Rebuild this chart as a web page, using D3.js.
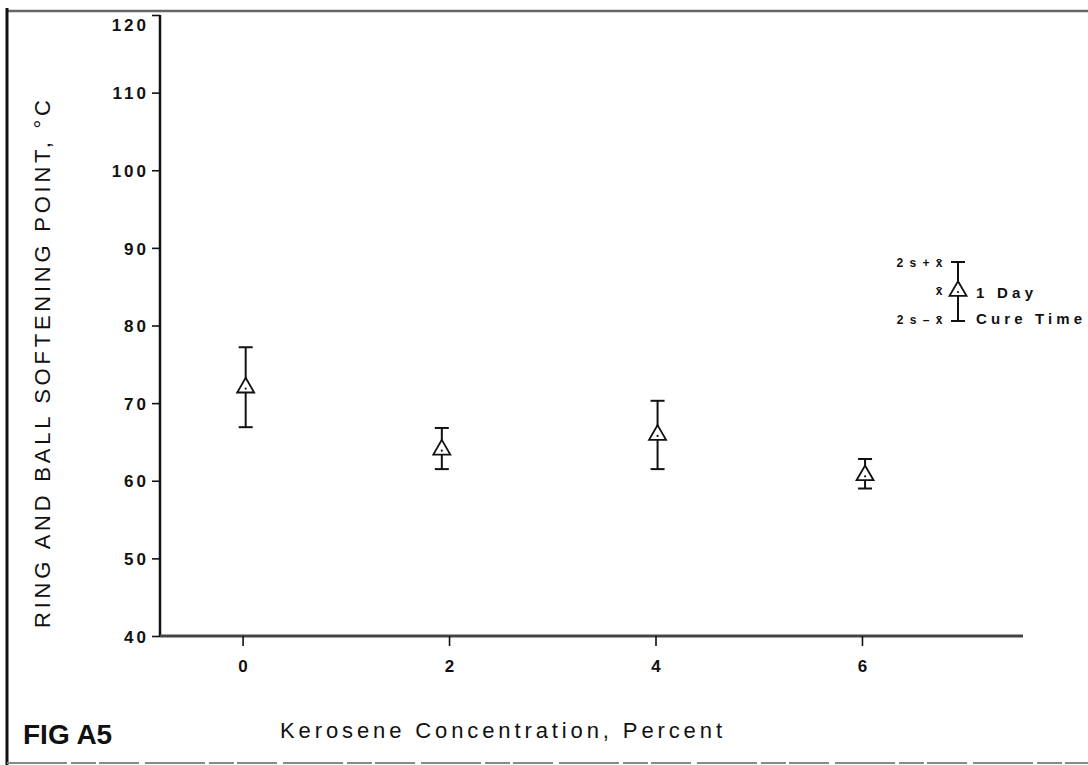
<!DOCTYPE html>
<html>
<head>
<meta charset="utf-8">
<script src="https://cdn.jsdelivr.net/npm/d3@7/dist/d3.min.js"></script>
<style>
  html, body { margin: 0; padding: 0; background: #fff; }
  svg { display: block; }
  text { font-family: "Liberation Sans", Arial, Helvetica, sans-serif; fill: #111; }
</style>
</head>
<body>
<svg id="chart" width="1088" height="765"></svg>
<script>
// ---- data ----
const kerosene = [0.03, 1.93, 4.02, 6.03];          // percent (plotted position)
const meanSP   = [72.0, 64.0, 65.9, 60.7];          // x-bar, deg C
const upperSP  = [77.2, 66.8, 70.3, 62.8];          // 2s + x-bar
const lowerSP  = [66.9, 61.5, 61.5, 59.0];          // 2s - x-bar
const xTicks   = [0, 2, 4, 6];
const yTicks   = [40, 50, 60, 70, 80, 90, 100, 110, 120];

const svg = d3.select("#chart");

const x = d3.scaleLinear().domain([-0.8, 7.56]).range([160, 1023]);
const y = d3.scaleLinear().domain([40, 120]).range([636, 15]);

// ---- page frame ----
svg.append("line").attr("x1", 7).attr("x2", 1088).attr("y1", 11).attr("y2", 11)
  .attr("stroke", "#666").attr("stroke-width", 2.5);
svg.append("line").attr("x1", 7).attr("x2", 7).attr("y1", 8).attr("y2", 765)
  .attr("stroke", "#111").attr("stroke-width", 3);
svg.append("line").attr("x1", 7).attr("x2", 1088).attr("y1", 763).attr("y2", 763)
  .attr("stroke", "#888").attr("stroke-width", 2).attr("stroke-dasharray", "60 4 25 3 40 6");

// ---- axes ----
const yAxis = d3.axisLeft(y).tickValues(yTicks).tickSize(8).tickPadding(6).tickFormat(d3.format("d"));
const gy = svg.append("g").attr("transform", "translate(160,0)").call(yAxis);
gy.select(".domain").attr("stroke", "#111").attr("stroke-width", 2.5).attr("d", "M0,15V636");
gy.selectAll(".tick line").attr("stroke", "#111").attr("stroke-width", 1.6);
gy.selectAll(".tick text")
  .style("font-family", '"Liberation Sans", Arial, sans-serif')
  .style("font-size", "17px").style("font-weight", "bold").style("letter-spacing", "3px")
  .attr("fill", "#111").attr("x", -11)
  .attr("dy", d => d === 120 ? "0.9em" : "0.36em");

const xAxis = d3.axisBottom(x).tickValues(xTicks).tickSize(10).tickPadding(14).tickFormat(d3.format("d"));
const gx = svg.append("g").attr("transform", "translate(0,636)").call(xAxis);
gx.select(".domain").attr("stroke", "#444").attr("stroke-width", 3).attr("d", "M160,0H1023");
gx.selectAll(".tick line").attr("stroke", "#111").attr("stroke-width", 1.6);
gx.selectAll(".tick text")
  .style("font-family", '"Liberation Sans", Arial, sans-serif')
  .style("font-size", "17px").style("font-weight", "bold").attr("fill", "#111");

// ---- axis titles ----
svg.append("text")
  .attr("transform", "translate(50,364) rotate(-90)")
  .attr("text-anchor", "middle")
  .attr("textLength", 528).attr("lengthAdjust", "spacing")
  .style("font-size", "22px")
  .text("RING AND BALL SOFTENING POINT, °C");

svg.append("text")
  .attr("x", 280).attr("y", 738)
  .attr("textLength", 442).attr("lengthAdjust", "spacing")
  .style("font-size", "22px")
  .text("Kerosene Concentration, Percent");

svg.append("text")
  .attr("x", 23).attr("y", 744)
  .style("font-size", "28px").style("font-weight", "bold")
  .text("FIG A5");

// ---- data marks ----
const data = kerosene.map((k, i) => ({ k, m: meanSP[i], hi: upperSP[i], lo: lowerSP[i] }));
const tri = d3.symbol().type(d3.symbolTriangle).size(125);
const capW = 7;

const pts = svg.append("g").selectAll("g").data(data).join("g");
pts.append("line")
  .attr("x1", d => x(d.k)).attr("x2", d => x(d.k))
  .attr("y1", d => y(d.hi)).attr("y2", d => y(d.lo))
  .attr("stroke", "#111").attr("stroke-width", 2);
pts.append("line")
  .attr("x1", d => x(d.k) - capW).attr("x2", d => x(d.k) + capW)
  .attr("y1", d => y(d.hi)).attr("y2", d => y(d.hi))
  .attr("stroke", "#111").attr("stroke-width", 2);
pts.append("line")
  .attr("x1", d => x(d.k) - capW).attr("x2", d => x(d.k) + capW)
  .attr("y1", d => y(d.lo)).attr("y2", d => y(d.lo))
  .attr("stroke", "#111").attr("stroke-width", 2);
pts.append("path")
  .attr("transform", d => `translate(${x(d.k)},${y(d.m)})`)
  .attr("d", tri).attr("fill", "#fff").attr("stroke", "#111").attr("stroke-width", 1.8);
pts.append("circle")
  .attr("cx", d => x(d.k)).attr("cy", d => y(d.m) + 1).attr("r", 1.1).attr("fill", "#111");

// ---- legend ----
const lg = svg.append("g");
const lx = 958, lTop = 262, lBot = 321, lMid = 291;
lg.append("line").attr("x1", lx).attr("x2", lx).attr("y1", lTop).attr("y2", lBot)
  .attr("stroke", "#111").attr("stroke-width", 2);
lg.append("line").attr("x1", lx - capW).attr("x2", lx + capW).attr("y1", lTop).attr("y2", lTop)
  .attr("stroke", "#111").attr("stroke-width", 2);
lg.append("line").attr("x1", lx - capW).attr("x2", lx + capW).attr("y1", lBot).attr("y2", lBot)
  .attr("stroke", "#111").attr("stroke-width", 2);
lg.append("path").attr("transform", `translate(${lx},${lMid})`).attr("d", tri)
  .attr("fill", "#fff").attr("stroke", "#111").attr("stroke-width", 1.8);
lg.append("circle").attr("cx", lx).attr("cy", lMid + 1).attr("r", 1.1).attr("fill", "#111");

const small = [["2 s + x\u0304", lTop + 5], ["x\u0304", lMid + 4], ["2 s \u2013 x\u0304", lBot + 3]];
lg.selectAll("text.sm").data(small).join("text").attr("class", "sm")
  .attr("x", 944).attr("y", d => d[1]).attr("text-anchor", "end")
  .style("font-size", "12px").style("font-weight", "bold").style("letter-spacing", "1.5px")
  .text(d => d[0]);
lg.append("text").attr("x", 976).attr("y", 298)
  .attr("textLength", 57).attr("lengthAdjust", "spacing")
  .style("font-size", "15px").style("font-weight", "bold").text("1 Day");
lg.append("text").attr("x", 976).attr("y", 324)
  .attr("textLength", 106).attr("lengthAdjust", "spacing")
  .style("font-size", "15px").style("font-weight", "bold").text("Cure Time");
</script>
</body>
</html>
